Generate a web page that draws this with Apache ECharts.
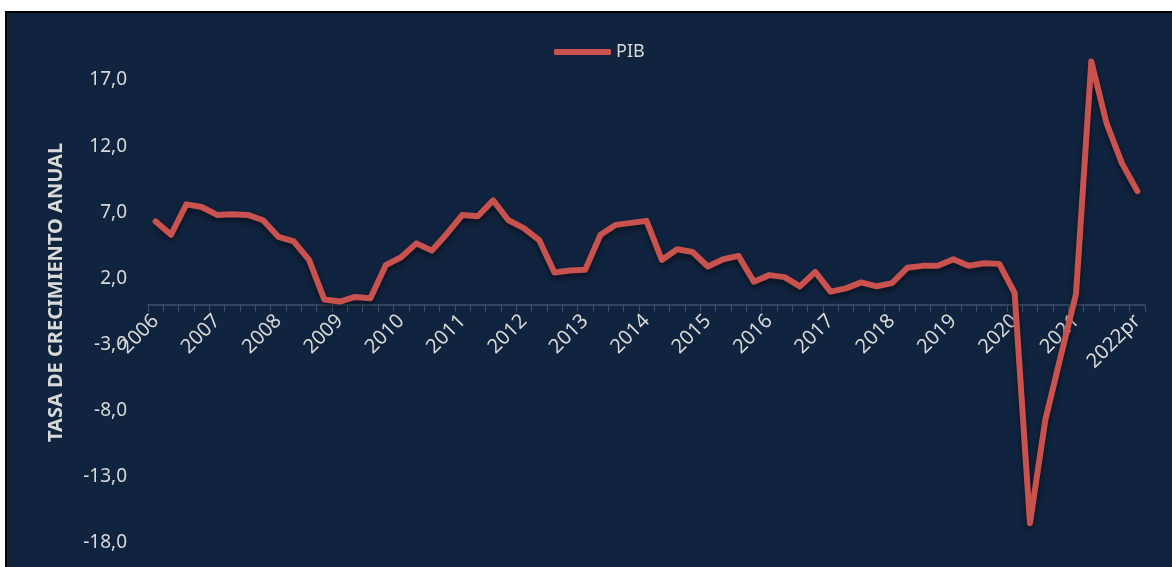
<!DOCTYPE html>
<html>
<head>
<meta charset="utf-8">
<script src="https://cdn.jsdelivr.net/npm/echarts@6/dist/echarts.min.js"></script>
<style>
  html, body { margin: 0; padding: 0; background: #ffffff; }
  #frame { position: absolute; left: 5px; top: 11px; right: 0; bottom: 0; background: #11243f; border-top: 2px solid #000; border-left: 2px solid #000; }
  #chart { position: absolute; left: 0; top: 0; width: 1172px; height: 567px; }
</style>
</head>
<body>
<div id="frame"></div>
<div id="chart"></div>
<script>
const years = ['2006','2007','2008','2009','2010','2011','2012','2013','2014','2015','2016','2017','2018','2019','2020','2021'];
const lastLabel = '2022pr';
const quarters = ['I','II','III','IV'];
const categories = [];
years.forEach(y => quarters.forEach(q => categories.push(y + '-' + q)));
categories.push(lastLabel + '-I');

const seriesName = 'PIB';
const pib = [6.3, 5.3, 7.6, 7.4, 6.8, 6.85, 6.8, 6.4, 5.15, 4.8, 3.4,
             0.4, 0.25, 0.6, 0.5,
             3.0, 3.6, 4.65, 4.1, 5.4, 6.8, 6.7,
             7.9, 6.4, 5.8, 4.9, 2.45, 2.6, 2.65, 5.3, 6.05, 6.2, 6.35,
             3.4, 4.2, 4.0, 2.9, 3.45, 3.7, 1.75, 2.25, 2.1, 1.4,
             2.5, 1.0, 1.25, 1.7, 1.4, 1.65, 2.8, 2.95, 2.95, 3.45, 2.95, 3.15, 3.1, 0.9,
             -16.5, -8.7, -3.9, 0.8, 18.4, 13.7, 10.7, 8.6];

const yMin = -18, yMax = 17, yStep = 5;
const yAxisTitle = 'TASA DE CRECIMIENTO ANUAL';

const gridTop = 80, gridBottom = 24, chartH = 567;
const plotH = chartH - gridTop - gridBottom;
// place the category axis at value 0
const zeroOffset = -Math.round(plotH * (0 - yMin) / (yMax - yMin));

const chart = echarts.init(document.getElementById('chart'));
const textColor = '#d9d9d9';
chart.setOption({
  backgroundColor: 'transparent',
  animation: false,
  grid: { left: 148, right: 27, top: gridTop, bottom: gridBottom, containLabel: false, outerBoundsMode: 'none' },
  legend: {
    data: [seriesName],
    left: 549, top: 38,
    itemWidth: 57, itemHeight: 6, itemGap: 5,
    textStyle: { color: textColor, fontSize: 18, fontFamily: 'Noto Sans' },
    icon: 'roundRect',
    itemStyle: { color: '#c9514e' }
  },
  xAxis: {
    type: 'category',
    data: categories,
    boundaryGap: true,
    position: 'bottom',
    offset: zeroOffset,
    axisLine: { onZero: false, lineStyle: { color: '#3e506a', width: 1.5 } },
    axisTick: { show: true, interval: 0, length: 7, lineStyle: { color: '#3e506a' } },
    axisLabel: {
      interval: 3, rotate: 45, margin: 13,
      color: textColor, fontSize: 20, fontFamily: 'Noto Sans',
      formatter: v => v.split('-')[0]
    },
    splitLine: { show: false }
  },
  yAxis: {
    type: 'value',
    min: yMin, max: yMax, interval: yStep,
    name: yAxisTitle,
    nameLocation: 'middle',
    nameGap: 82,
    nameRotate: 90,
    nameTextStyle: { color: textColor, fontSize: 20, fontWeight: 'bold', fontFamily: 'Noto Sans', padding: [0, 0, 0, 38] },
    axisLine: { show: false },
    axisTick: { show: false },
    splitLine: { show: false },
    axisLabel: {
      margin: 21, color: textColor, fontSize: 19, fontFamily: 'Noto Sans',
      formatter: v => v.toFixed(1).replace('.', ',')
    }
  },
  series: [{
    name: seriesName,
    type: 'line',
    data: pib,
    symbol: 'none',
    clip: false,
    lineStyle: { color: '#c9514e', width: 6, cap: 'round', join: 'round',
      shadowColor: 'rgba(0,0,0,0.55)', shadowBlur: 6, shadowOffsetY: 3 },
    itemStyle: { color: '#c9514e' }
  }]
});
</script>
</body>
</html>
